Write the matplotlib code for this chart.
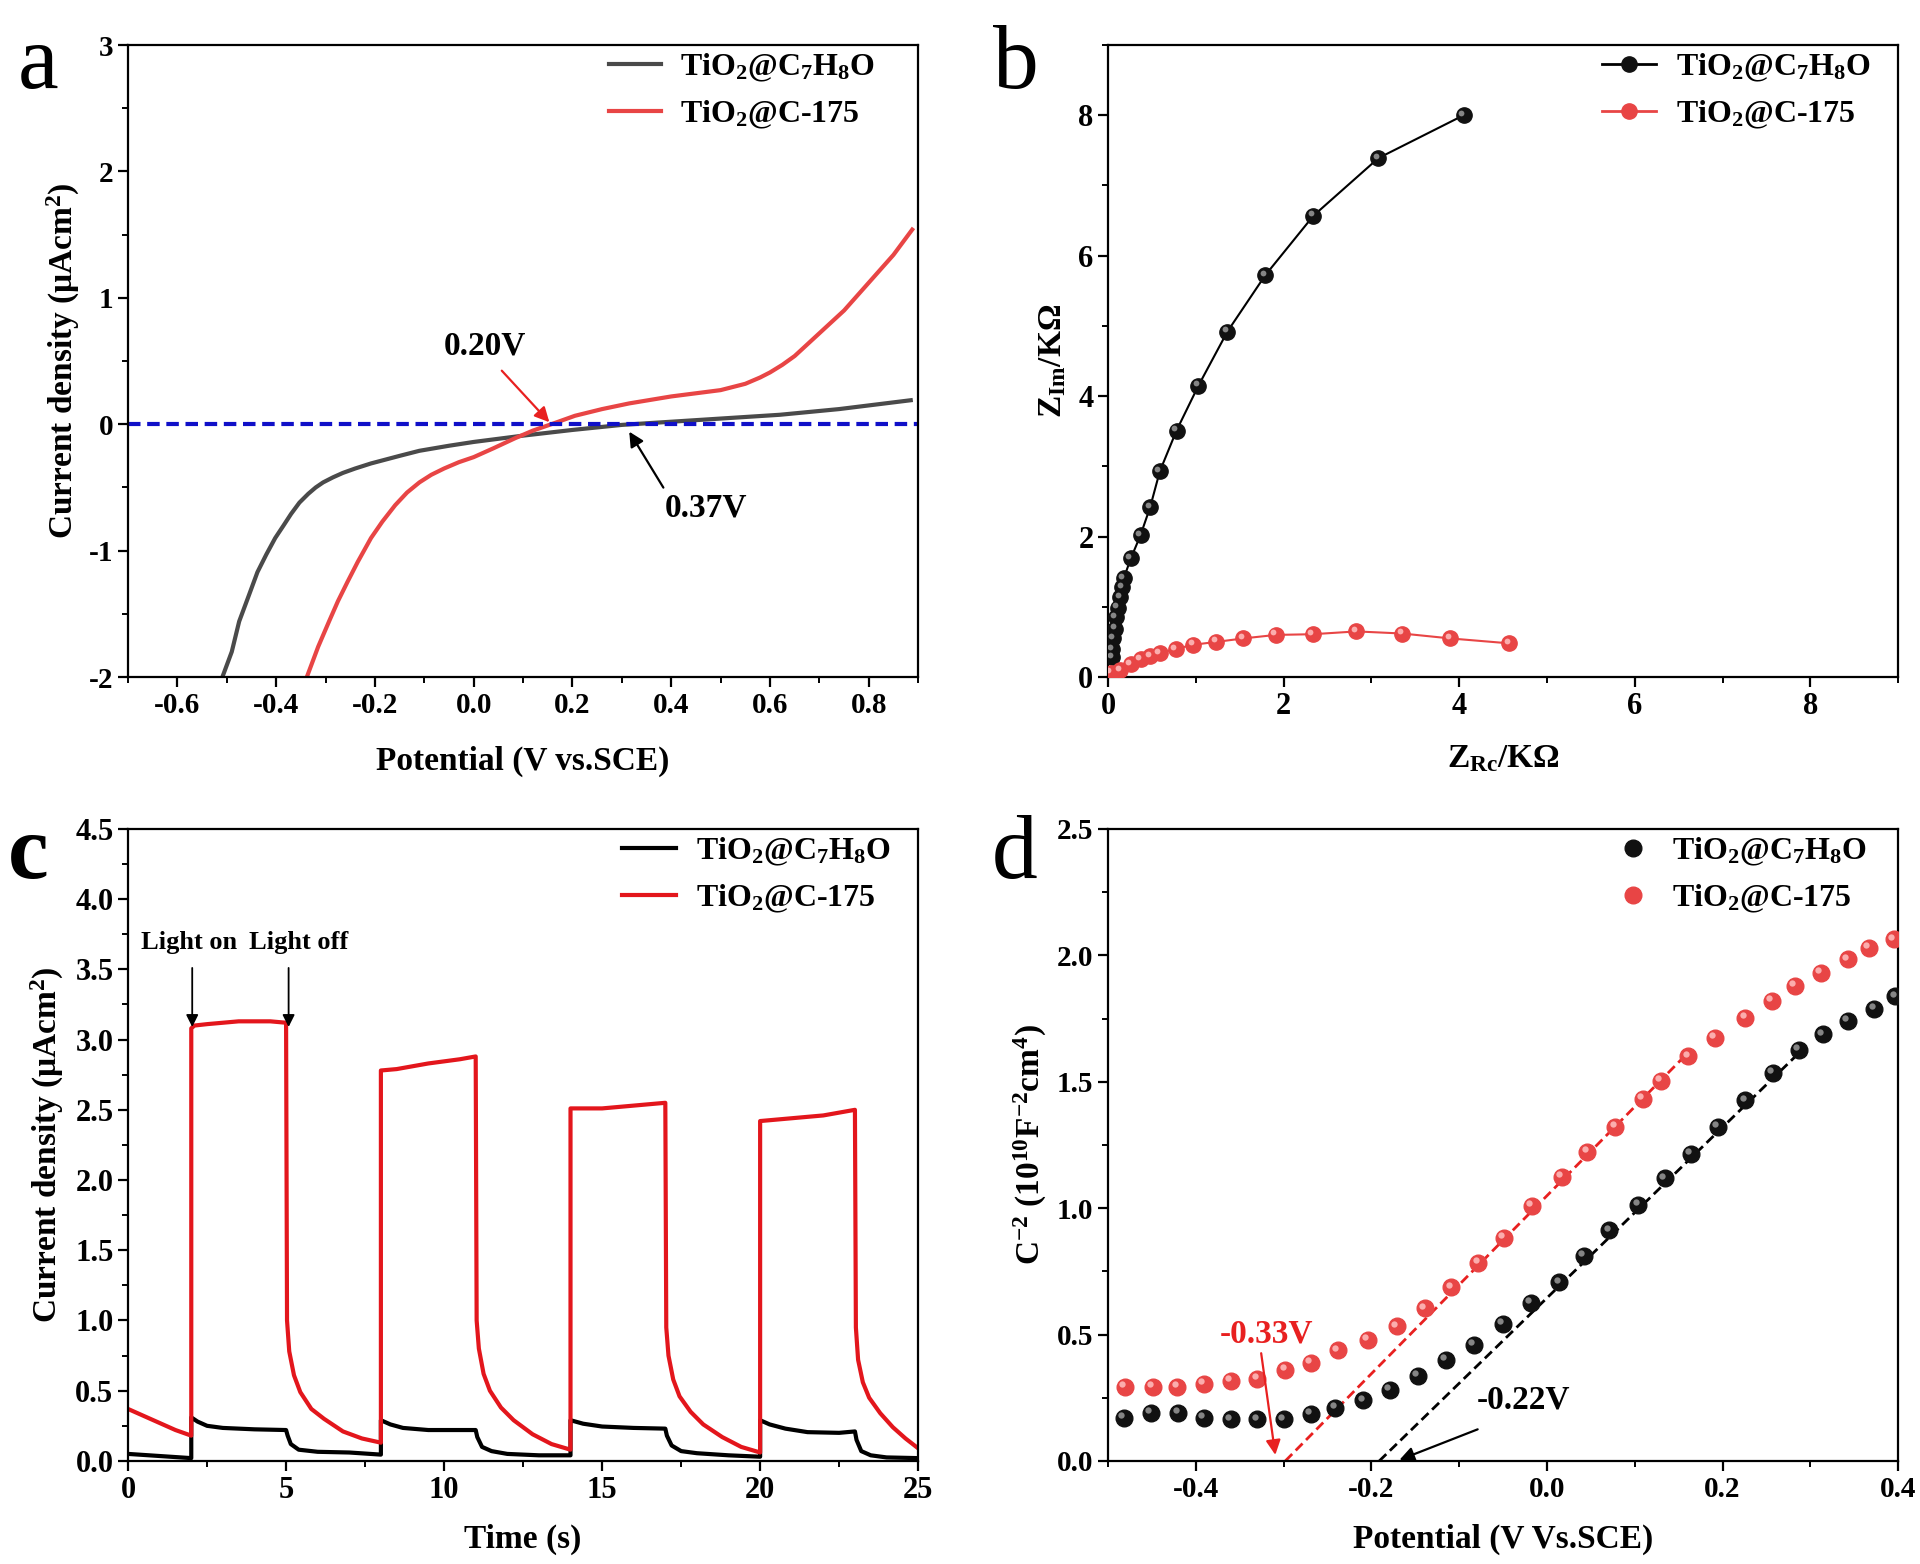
import matplotlib
matplotlib.use('Agg')
import matplotlib.pyplot as plt
from matplotlib.transforms import ScaledTranslation
from matplotlib.ticker import MultipleLocator, FormatStrFormatter

plt.rcParams.update({
    'font.family': 'Liberation Serif',
    'font.weight': 'bold',
    'mathtext.fontset': 'custom',
    'mathtext.rm': 'Liberation Serif:bold',
    'mathtext.it': 'Liberation Serif:bold:italic',
    'mathtext.bf': 'Liberation Serif:bold',
    'axes.unicode_minus': False,
    'axes.linewidth': 1.6,
    'xtick.direction': 'out', 'ytick.direction': 'out',
    'xtick.major.size': 7, 'ytick.major.size': 7,
    'xtick.minor.size': 4, 'ytick.minor.size': 4,
    'xtick.major.width': 1.6, 'ytick.major.width': 1.6,
    'xtick.minor.width': 1.4, 'ytick.minor.width': 1.4,
})

LBL_BLACK = 'TiO$_2$@C$_7$H$_8$O'
LBL_RED = 'TiO$_2$@C-175'

# ---- panel a : LSV ----
lsv_black_x = [-0.509, -0.49, -0.475, -0.455, -0.438, -0.42, -0.402, -0.385, -0.37, -0.353, -0.335,
               -0.32, -0.305, -0.285, -0.265, -0.24, -0.208, -0.15, -0.11, -0.05, 0.0, 0.05, 0.1,
               0.2, 0.3, 0.4, 0.5, 0.62, 0.74, 0.885]
lsv_black_y = [-2.0, -1.80, -1.56, -1.35, -1.17, -1.03, -0.90, -0.80, -0.71, -0.62, -0.55,
               -0.50, -0.46, -0.42, -0.385, -0.35, -0.31, -0.25, -0.21, -0.17, -0.14, -0.115, -0.09,
               -0.045, -0.005, 0.02, 0.045, 0.075, 0.12, 0.19]
lsv_red_x = [-0.338, -0.315, -0.293, -0.275, -0.256, -0.235, -0.208, -0.185, -0.159, -0.135, -0.11,
             -0.086, -0.06, -0.03, 0.0, 0.04, 0.084, 0.12, 0.157, 0.205, 0.26, 0.315, 0.40, 0.45,
             0.5, 0.55, 0.58, 0.6, 0.625, 0.65, 0.675, 0.7, 0.75, 0.8, 0.85, 0.888]
lsv_red_y = [-2.0, -1.76, -1.56, -1.40, -1.25, -1.09, -0.90, -0.77, -0.64, -0.54, -0.46,
             -0.40, -0.35, -0.30, -0.26, -0.19, -0.11, -0.05, 0.0, 0.067, 0.12, 0.165, 0.22, 0.245,
             0.27, 0.32, 0.37, 0.41, 0.47, 0.54, 0.63, 0.72, 0.90, 1.12, 1.34, 1.54]

# ---- panel b : EIS ----
eis_black_x = [0.05, 0.05, 0.06, 0.08, 0.09, 0.11, 0.14, 0.16, 0.18, 0.26, 0.37, 0.48, 0.59,
               0.78, 1.03, 1.36, 1.79, 2.34, 3.08, 4.05]
eis_black_y = [0.28, 0.40, 0.55, 0.69, 0.85, 0.99, 1.14, 1.28, 1.41, 1.69, 2.02, 2.42, 2.93,
               3.51, 4.15, 4.92, 5.72, 6.57, 7.39, 8.0]
eis_red_x = [0.03, 0.14, 0.26, 0.37, 0.48, 0.59, 0.77, 0.97, 1.23, 1.54, 1.91, 2.33, 2.83,
             3.35, 3.90, 4.57]
eis_red_y = [0.06, 0.10, 0.18, 0.25, 0.30, 0.34, 0.40, 0.46, 0.50, 0.55, 0.60, 0.61, 0.65,
             0.62, 0.55, 0.48]

# ---- panel c : i-t ----
it_red_t = [0, 0.5, 1.0, 1.5, 2.0, 2.0, 2.1, 2.5, 3.0, 3.5, 4.0, 4.5, 5.0,
            5.03, 5.1, 5.25, 5.45, 5.8, 6.2, 6.8, 7.4, 8.0,
            8.0, 8.5, 9.0, 9.5, 10.0, 10.5, 11.0,
            11.03, 11.1, 11.25, 11.45, 11.8, 12.2, 12.8, 13.4, 14.0,
            14.0, 15.0, 16.0, 17.0,
            17.03, 17.1, 17.25, 17.45, 17.8, 18.2, 18.8, 19.4, 20.0,
            20.0, 21.0, 22.0, 23.0,
            23.03, 23.1, 23.25, 23.45, 23.8, 24.2, 24.6, 25.0]
it_red_j = [0.37, 0.32, 0.27, 0.22, 0.18, 3.08, 3.10, 3.11, 3.12, 3.13, 3.13, 3.13, 3.12,
            1.0, 0.78, 0.61, 0.49, 0.37, 0.30, 0.21, 0.16, 0.13,
            2.78, 2.79, 2.81, 2.83, 2.845, 2.86, 2.88,
            1.0, 0.80, 0.62, 0.50, 0.38, 0.29, 0.19, 0.12, 0.08,
            2.51, 2.51, 2.53, 2.55,
            0.95, 0.75, 0.58, 0.46, 0.35, 0.26, 0.17, 0.10, 0.06,
            2.42, 2.44, 2.46, 2.50,
            0.95, 0.72, 0.56, 0.45, 0.34, 0.24, 0.16, 0.09]
it_black_t = [0, 1.0, 2.0, 2.0, 2.2, 2.5, 3.0, 4.0, 5.0, 5.05, 5.15, 5.4, 6.0, 7.0, 8.0,
              8.0, 8.3, 8.7, 9.5, 11.0, 11.05, 11.2, 11.5, 12.0, 13.0, 14.0,
              14.0, 14.4, 15.0, 16.0, 17.0, 17.05, 17.2, 17.5, 18.0, 19.0, 20.0,
              20.0, 20.3, 20.8, 21.5, 22.5, 23.0, 23.05, 23.2, 23.5, 24.0, 25.0]
it_black_j = [0.05, 0.035, 0.02, 0.31, 0.28, 0.25, 0.235, 0.225, 0.22, 0.18, 0.12, 0.08, 0.065, 0.06, 0.045,
              0.29, 0.26, 0.235, 0.22, 0.22, 0.17, 0.10, 0.07, 0.05, 0.04, 0.04,
              0.29, 0.265, 0.245, 0.235, 0.23, 0.18, 0.11, 0.07, 0.055, 0.04, 0.03,
              0.29, 0.26, 0.23, 0.205, 0.20, 0.21, 0.15, 0.07, 0.04, 0.025, 0.02]

# ---- panel d : Mott-Schottky ----
ms_black_v = [-0.482, -0.451, -0.420, -0.391, -0.360, -0.330, -0.300, -0.269, -0.241, -0.209,
              -0.179, -0.147, -0.115, -0.083, -0.050, -0.018, 0.014, 0.042, 0.071, 0.104,
              0.134, 0.164, 0.195, 0.226, 0.257, 0.287, 0.314, 0.343, 0.373, 0.397]
ms_black_c = [0.171, 0.19, 0.19, 0.171, 0.164, 0.164, 0.164, 0.187, 0.21, 0.24,
              0.28, 0.337, 0.40, 0.46, 0.543, 0.625, 0.706, 0.812, 0.912, 1.014,
              1.118, 1.214, 1.322, 1.426, 1.534, 1.626, 1.688, 1.74, 1.788, 1.838]
ms_red_v = [-0.481, -0.449, -0.421, -0.391, -0.360, -0.330, -0.298, -0.269, -0.238, -0.204,
            -0.171, -0.139, -0.109, -0.078, -0.049, -0.017, 0.017, 0.046, 0.078, 0.109,
            0.130, 0.161, 0.191, 0.226, 0.256, 0.282, 0.312, 0.343, 0.367, 0.395]
ms_red_c = [0.293, 0.293, 0.293, 0.306, 0.316, 0.325, 0.36, 0.389, 0.437, 0.479,
            0.533, 0.604, 0.687, 0.783, 0.883, 1.008, 1.124, 1.222, 1.322, 1.432,
            1.503, 1.601, 1.674, 1.753, 1.819, 1.880, 1.932, 1.984, 2.030, 2.063]
fit_red_v, fit_red_c = [-0.298, 0.165], [0.0, 1.63]
fit_black_v, fit_black_c = [-0.191, 0.283], [0.0, 1.60]

fig = plt.figure(figsize=(19.2, 15.64), dpi=100)
ax_a = fig.add_axes([0.0667, 0.5671, 0.4115, 0.4041])
ax_b = fig.add_axes([0.5771, 0.5671, 0.4115, 0.4041])
ax_c = fig.add_axes([0.0667, 0.0659, 0.4115, 0.4041])
ax_d = fig.add_axes([0.5771, 0.0659, 0.4115, 0.4041])


def style(ax, fs):
    ax.tick_params(labelsize=fs, which='both', top=False, right=False)
    for lab in ax.get_xticklabels() + ax.get_yticklabels():
        lab.set_fontweight('bold')


def sphere(ax, x, y, color, hl, ms, line=None, lw=1.5):
    if line:
        ax.plot(x, y, '-', color=line, lw=lw, zorder=2)
    ax.plot(x, y, 'o', ls='none', color=color, ms=ms, mec=color, zorder=3)
    off = ScaledTranslation(-ms * 0.16 / 72, ms * 0.16 / 72, fig.dpi_scale_trans)
    ax.plot(x, y, 'o', ls='none', color=hl, ms=ms * 0.38, mec='none', alpha=0.85,
            transform=ax.transData + off, zorder=4)


leg_kw = dict(loc='upper right', frameon=False, fontsize=23, handletextpad=0.6,
              labelspacing=0.48, borderaxespad=0.1)

# a
ax = ax_a
ax.plot(lsv_black_x, lsv_black_y, color='#4a4a4a', lw=3, label=LBL_BLACK)
ax.plot(lsv_red_x, lsv_red_y, color='#e84545', lw=3, label=LBL_RED)
ax.axhline(0, color='#1010c8', lw=3, ls=(0, (3, 1.6)))
ax.set_xlim(-0.7, 0.9)
ax.set_ylim(-2, 3)
ax.xaxis.set_minor_locator(MultipleLocator(0.1))
ax.xaxis.set_major_formatter(FormatStrFormatter('%.1f'))
ax.yaxis.set_major_locator(MultipleLocator(1))
ax.yaxis.set_minor_locator(MultipleLocator(0.5))
ax.set_xticks([-0.6, -0.4, -0.2, 0.0, 0.2, 0.4, 0.6, 0.8])
style(ax, 21)
ax.set_xlabel('Potential (V vs.SCE)', fontsize=24, fontweight='bold')
ax.set_ylabel('Current density (μAcm$^2$)', fontsize=24, fontweight='bold')
ax.xaxis.set_label_coords(0.5, -0.108)
ax.yaxis.set_label_coords(-0.058, 0.5)
ax.annotate('', xy=(0.157, 0.0), xytext=(0.053, 0.44),
            arrowprops=dict(arrowstyle='-|>', color='#e82020', lw=1.6, mutation_scale=22))
ax.text(0.023, 0.62, '0.20V', fontsize=24, fontweight='bold', ha='center', va='center')
ax.annotate('', xy=(0.312, -0.04), xytext=(0.387, -0.52),
            arrowprops=dict(arrowstyle='-|>', color='black', lw=1.6, mutation_scale=22))
ax.text(0.47, -0.66, '0.37V', fontsize=24, fontweight='bold', ha='center', va='center')
ax.legend(bbox_to_anchor=(0.965, 1.015), handlelength=1.6, **leg_kw)

# b
ax = ax_b
sphere(ax, eis_black_x, eis_black_y, '#111111', '#9a9a9a', 11, line='black')
sphere(ax, eis_red_x, eis_red_y, '#e84545', '#ffc0c0', 11, line='#e84545')
ax.set_xlim(0, 9)
ax.set_ylim(0, 9)
ax.xaxis.set_major_locator(MultipleLocator(2))
ax.xaxis.set_minor_locator(MultipleLocator(1))
ax.yaxis.set_major_locator(MultipleLocator(2))
ax.yaxis.set_minor_locator(MultipleLocator(1))
style(ax, 22)
ax.set_xlabel('Z$_{\\mathrm{Rc}}$/KΩ', fontsize=24, fontweight='bold')
ax.set_ylabel('Z$_{\\mathrm{Im}}$/KΩ', fontsize=24, fontweight='bold')
ax.xaxis.set_label_coords(0.5, -0.105)
ax.yaxis.set_label_coords(-0.05, 0.5)
hb = [plt.Line2D([], [], color='black', lw=2, marker='o', ms=11, mfc='#111111', mec='#111111'),
      plt.Line2D([], [], color='#e84545', lw=2, marker='o', ms=11, mfc='#e84545', mec='#e84545')]
ax.legend(hb, [LBL_BLACK, LBL_RED], bbox_to_anchor=(0.985, 1.015), handlelength=1.7, **leg_kw)

# c
ax = ax_c
ax.plot(it_black_t, it_black_j, color='black', lw=3, label=LBL_BLACK)
ax.plot(it_red_t, it_red_j, color='#e3161c', lw=3, label=LBL_RED)
ax.set_xlim(0, 25)
ax.set_ylim(0, 4.5)
ax.xaxis.set_major_locator(MultipleLocator(5))
ax.xaxis.set_minor_locator(MultipleLocator(2.5))
ax.yaxis.set_major_locator(MultipleLocator(0.5))
ax.yaxis.set_minor_locator(MultipleLocator(0.25))
ax.yaxis.set_major_formatter(FormatStrFormatter('%.1f'))
style(ax, 22)
ax.set_xlabel('Time (s)', fontsize=24, fontweight='bold')
ax.set_ylabel('Current density (μAcm$^2$)', fontsize=24, fontweight='bold')
ax.xaxis.set_label_coords(0.5, -0.1)
ax.yaxis.set_label_coords(-0.078, 0.5)
for t0 in [2.03, 5.08]:
    ax.annotate('', xy=(t0, 3.07), xytext=(t0, 3.53),
                arrowprops=dict(arrowstyle='-|>', color='black', lw=1.3, mutation_scale=18))
ax.text(1.93, 3.69, 'Light on', fontsize=19, fontweight='bold', ha='center', va='center')
ax.text(5.4, 3.69, 'Light off', fontsize=19, fontweight='bold', ha='center', va='center')
ax.legend(bbox_to_anchor=(0.985, 1.015), handlelength=1.7, **leg_kw)

# d
ax = ax_d
ax.plot(fit_red_v, fit_red_c, color='#e82020', lw=2, ls=(0, (3.5, 1.8)), zorder=2)
ax.plot(fit_black_v, fit_black_c, color='black', lw=2, ls=(0, (3.5, 1.8)), zorder=2)
sphere(ax, ms_black_v, ms_black_c, '#111111', '#9a9a9a', 12)
sphere(ax, ms_red_v, ms_red_c, '#e84545', '#ffc0c0', 12)
ax.set_xlim(-0.5, 0.4)
ax.set_ylim(0, 2.5)
ax.xaxis.set_minor_locator(MultipleLocator(0.1))
ax.set_xticks([-0.4, -0.2, 0.0, 0.2, 0.4])
ax.xaxis.set_major_formatter(FormatStrFormatter('%.1f'))
ax.yaxis.set_major_locator(MultipleLocator(0.5))
ax.yaxis.set_minor_locator(MultipleLocator(0.25))
ax.yaxis.set_major_formatter(FormatStrFormatter('%.1f'))
style(ax, 21)
ax.set_xlabel('Potential (V Vs.SCE)', fontsize=24, fontweight='bold')
ax.set_ylabel('C$^{-2}$ (10$^{10}$F$^{-2}$cm$^4$)', fontsize=24, fontweight='bold')
ax.xaxis.set_label_coords(0.5, -0.1)
ax.yaxis.set_label_coords(-0.075, 0.5)
ax.annotate('', xy=(-0.309, 0.013), xytext=(-0.326, 0.437),
            arrowprops=dict(arrowstyle='-|>', color='#e82020', lw=1.6, mutation_scale=22))
ax.text(-0.319, 0.504, '-0.33V', fontsize=24, fontweight='bold', color='#e82020',
        ha='center', va='center')
ax.annotate('', xy=(-0.171, 0.0), xytext=(-0.076, 0.129),
            arrowprops=dict(arrowstyle='-|>', color='black', lw=1.6, mutation_scale=22))
ax.text(-0.027, 0.24, '-0.22V', fontsize=24, fontweight='bold', ha='center', va='center')
hd = [plt.Line2D([], [], ls='none', marker='o', ms=12, mfc='#111111', mec='#111111'),
      plt.Line2D([], [], ls='none', marker='o', ms=12, mfc='#e84545', mec='#e84545')]
ax.legend(hd, [LBL_BLACK, LBL_RED], bbox_to_anchor=(0.98, 1.015), handlelength=1.2, **leg_kw)

# panel letters
fig.text(0.0094, 0.9437, 'a', fontsize=66, fontweight='normal', va='baseline')
fig.text(0.517, 0.9437, 'b', fontsize=66, fontweight='normal', va='baseline')
fig.text(0.0042, 0.4386, 'c', fontsize=66, fontweight='bold', va='baseline')
fig.text(0.5167, 0.4386, 'd', fontsize=66, fontweight='normal', va='baseline')

fig.savefig('out.png', dpi=100)
